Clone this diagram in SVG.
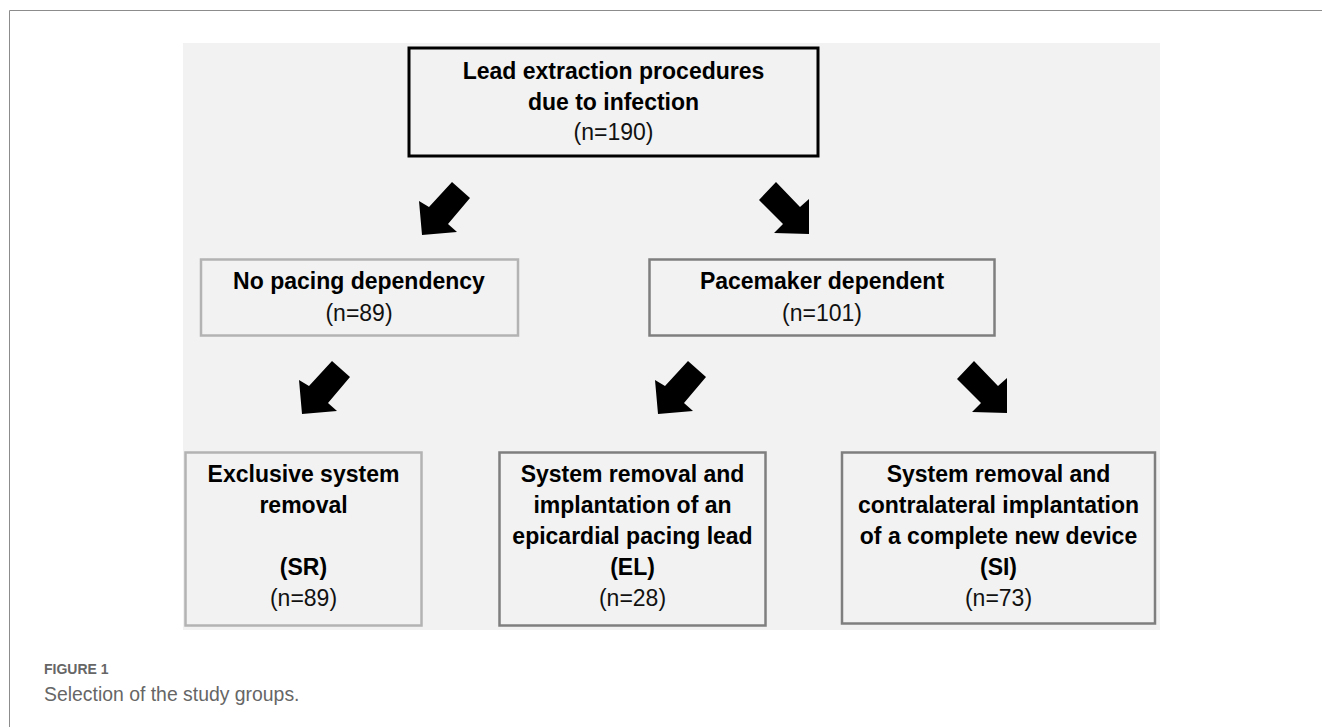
<svg xmlns="http://www.w3.org/2000/svg" width="1322" height="727" viewBox="0 0 1322 727">
<style>
.b{font-family:"Liberation Sans",Arial,sans-serif;font-weight:bold;font-size:23px;fill:#000;text-anchor:middle}
.r{font-family:"Liberation Sans",Arial,sans-serif;font-size:23px;fill:#111;text-anchor:middle}
.box{fill:#f2f2f2;stroke-width:2.5}
.light{stroke:#b3b3b3}
.dark{stroke:#7f7f7f}
.arr{fill:#000}
.cap{font-family:"Liberation Sans",Arial,sans-serif;fill:#666}
</style>
<rect width="1322" height="727" fill="#fff"/>
<path d="M9.5,727 V10.5 H1322" fill="none" stroke="#8c8c8c" stroke-width="1"/>
<rect x="183" y="43" width="977" height="587" fill="#f2f2f2"/>
<g id="n_top">
<rect x="409" y="48" width="409" height="108" fill="#f2f2f2" stroke="#000" stroke-width="3"/>
<text class="b" x="613.5" y="79">Lead extraction procedures</text>
<text class="b" x="613.5" y="110">due to infection</text>
<text class="r" x="613.5" y="140">(n=190)</text>
</g>
<g id="n_nopacing">
<rect class="box light" x="201" y="259.5" width="317" height="76"/>
<text class="b" x="359" y="289">No pacing dependency</text>
<text class="r" x="359" y="321">(n=89)</text>
</g>
<g id="n_pacemaker">
<rect class="box dark" x="649.5" y="259.5" width="345" height="76"/>
<text class="b" x="822" y="289">Pacemaker dependent</text>
<text class="r" x="822" y="321">(n=101)</text>
</g>
<g id="n_sr">
<rect class="box light" x="185.5" y="452.5" width="236" height="173"/>
<text class="b" x="303.5" y="482">Exclusive system</text>
<text class="b" x="303.5" y="513">removal</text>
<text class="b" x="303.5" y="575">(SR)</text>
<text class="r" x="303.5" y="606">(n=89)</text>
</g>
<g id="n_el">
<rect class="box dark" x="499.5" y="452.5" width="266" height="173"/>
<text class="b" x="632.5" y="482">System removal and</text>
<text class="b" x="632.5" y="513">implantation of an</text>
<text class="b" x="632.5" y="544">epicardial pacing lead</text>
<text class="b" x="632.5" y="575">(EL)</text>
<text class="r" x="632.5" y="606">(n=28)</text>
</g>
<g id="n_si">
<rect class="box dark" x="842" y="452.5" width="313" height="171"/>
<text class="b" x="998.5" y="482">System removal and</text>
<text class="b" x="998.5" y="513">contralateral implantation</text>
<text class="b" x="998.5" y="544">of a complete new device</text>
<text class="b" x="998.5" y="575">(SI)</text>
<text class="r" x="998.5" y="606">(n=73)</text>
</g>
<defs>
<path id="dl" d="M0,0 L-3,-34 L7,-28 L30,-53 L48,-37 L26,-11 L35,-3 Z"/>
<path id="dr" d="M0,0 L-35,-1 L-26,-10 L-50,-34 L-33,-52 L-9,-27 L0,-35 Z"/>
</defs>
<g id="connectors" class="arr">
<use href="#dl" x="422" y="235"/>
<use href="#dr" x="809" y="234"/>
<use href="#dl" x="302" y="414"/>
<use href="#dl" x="658" y="414"/>
<use href="#dr" x="1007" y="413"/>
</g>
<g id="caption">
<text class="cap" x="44" y="674" font-size="14" font-weight="bold">FIGURE 1</text>
<text class="cap" x="44" y="701" font-size="19.4">Selection of the study groups.</text>
</g>
</svg>
